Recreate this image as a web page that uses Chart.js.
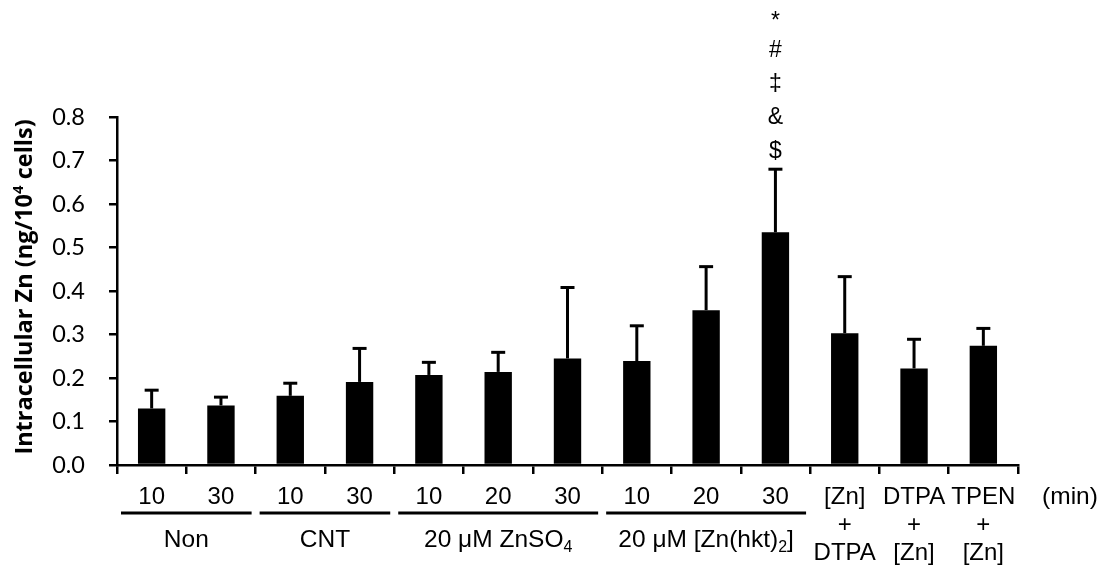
<!DOCTYPE html>
<html><head><meta charset="utf-8">
<script src="https://cdn.jsdelivr.net/npm/chart.js@4/dist/chart.umd.min.js"></script>
<style>html,body{margin:0;padding:0;background:#fff}#wrap{width:1102px;height:569px;position:relative}</style>
</head><body><div id="wrap"><canvas id="c"></canvas></div>
<script>
// ---- data ----
const categories = ['10','30','10','30','10','20','30','10','20','30',['[Zn]','+','DTPA'],['DTPA','+','[Zn]'],['TPEN','+','[Zn]']];
const means = [0.130,0.137,0.159,0.191,0.207,0.214,0.245,0.239,0.356,0.535,0.303,0.222,0.274];
const errors = [0.042,0.019,0.029,0.077,0.029,0.045,0.163,0.081,0.100,0.145,0.130,0.067,0.040];
const groupLabels = ['Non','CNT','20 μM ZnSO','20 μM [Zn(hkt)'];
const groupSubs = ['','','4','2'];
const groupTails = ['','','',']'];
const groupStart = [0,2,4,7];
const groupEnd = [1,3,6,9];
const sigMarks = ['$','&','‡','#','*']; // from bottom to top
const sigIndex = 9;
const yMin = 0, yMax = 0.8, yStep = 0.1;
const yTitleMain = 'Intracellular Zn (ng/10', yTitleSup = '4', yTitleTail = ' cells)';
const unitLabel = '(min)';

const XFAM = '"Liberation Sans", Arial, sans-serif';
const XFONT = '24.5px ' + XFAM;
const XFONT_SUB = '16px ' + XFAM;

function drawSubText(ctx, cx, cy, main, sub, tail, font, subFont, subDy) {
  ctx.font = font; const w1 = ctx.measureText(main).width; const w3 = ctx.measureText(tail).width;
  ctx.font = subFont; const w2 = sub ? ctx.measureText(sub).width : 0;
  let x = cx - (w1 + w2 + w3) / 2;
  ctx.textAlign = 'left'; ctx.textBaseline = 'middle';
  ctx.font = font; ctx.fillText(main, x, cy); x += w1;
  if (sub) { ctx.font = subFont; ctx.fillText(sub, x, cy + subDy); x += w2; }
  ctx.font = font; if (tail) ctx.fillText(tail, x, cy);
}

const extras = {
  id: 'extras',
  afterDatasetsDraw(chart) {
    const ctx = chart.ctx, ys = chart.scales.y, xs = chart.scales.x;
    const meta = chart.getDatasetMeta(0);
    ctx.save();
    ctx.strokeStyle = '#000'; ctx.lineWidth = 3; ctx.lineCap = 'butt';
    meta.data.forEach((el, i) => {
      const x = el.x, y0 = ys.getPixelForValue(means[i]), y1 = ys.getPixelForValue(means[i] + errors[i]);
      ctx.beginPath(); ctx.moveTo(x, y0); ctx.lineTo(x, y1); ctx.stroke();
      ctx.beginPath(); ctx.moveTo(x - 7, y1); ctx.lineTo(x + 7, y1); ctx.stroke();
    });
    // significance marks
    ctx.fillStyle = '#000'; ctx.font = '23px ' + XFAM; ctx.textAlign = 'center'; ctx.textBaseline = 'middle';
    const mx = xs.getPixelForValue(sigIndex), my = ys.getPixelForValue(means[sigIndex] + errors[sigIndex]);
    sigMarks.forEach((m, k) => ctx.fillText(m, mx, my - 18 - k * 33.5 + (m === '*' ? 4 : 0)));
    ctx.restore();
  },
  afterDraw(chart) {
    const ctx = chart.ctx, ys = chart.scales.y, xs = chart.scales.x, area = chart.chartArea;
    const cw = xs.getPixelForValue(1) - xs.getPixelForValue(0);
    ctx.save(); ctx.fillStyle = '#000'; ctx.strokeStyle = '#000';
    // group underlines and labels
    groupLabels.forEach((g, i) => {
      const l = xs.getPixelForValue(groupStart[i]) - cw / 2 + 4;
      const r = xs.getPixelForValue(groupEnd[i]) + cw / 2 - 4;
      ctx.lineWidth = 3; ctx.beginPath(); ctx.moveTo(l, 513); ctx.lineTo(r, 513); ctx.stroke();
      drawSubText(ctx, (l + r) / 2, 540, g, groupSubs[i], groupTails[i], XFONT, XFONT_SUB, 8);
    });
    // unit label
    ctx.font = XFONT; ctx.textAlign = 'center'; ctx.textBaseline = 'middle';
    ctx.fillText(unitLabel, xs.getPixelForValue(categories.length - 1) + cw * 1.25, 497);
    // y title
    ctx.translate(25, (area.top + area.bottom) / 2 - 4); ctx.rotate(-Math.PI / 2);
    const TF = 'bold 23.5px "Open Sans", Arial, sans-serif', TS = 'bold 15px "Open Sans", Arial, sans-serif';
    drawSubText(ctx, 0, 0, yTitleMain, yTitleSup, yTitleTail, TF, TS, -6);
    ctx.restore();
  }
};

new Chart(document.getElementById('c'), {
  type: 'bar',
  data: { labels: categories, datasets: [{ data: means, backgroundColor: '#000', borderWidth: 0, barPercentage: 0.395, categoryPercentage: 1 }] },
  options: {
    responsive: true, maintainAspectRatio: false, animation: false,
    layout: { padding: { left: 0, right: 84, top: 117, bottom: 0 } },
    plugins: { legend: { display: false }, tooltip: { enabled: false } },
    scales: {
      x: {
        grid: { display: true, offset: true, drawOnChartArea: false, drawTicks: true, tickLength: 9, color: '#000', lineWidth: 2.5 },
        border: { display: true, color: '#000', width: 2.5 },
        ticks: { color: '#000', font: { family: XFAM, size: 24, lineHeight: 1.17 }, padding: 9, autoSkip: false, maxRotation: 0, minRotation: 0 },
        afterFit(s) { s.height = 104; }
      },
      y: {
        min: yMin, max: yMax,
        grid: { display: true, drawOnChartArea: false, drawTicks: true, tickLength: 8, color: '#000', lineWidth: 2.5 },
        border: { display: true, color: '#000', width: 2.5 },
        ticks: { stepSize: yStep, color: '#000', padding: 24, font: { family: 'Lato, "Open Sans", sans-serif', size: 23.5 }, callback: v => v.toFixed(1) },
        afterFit(s) { s.width = 117; }
      }
    }
  },
  plugins: [extras]
});
</script></body></html>
